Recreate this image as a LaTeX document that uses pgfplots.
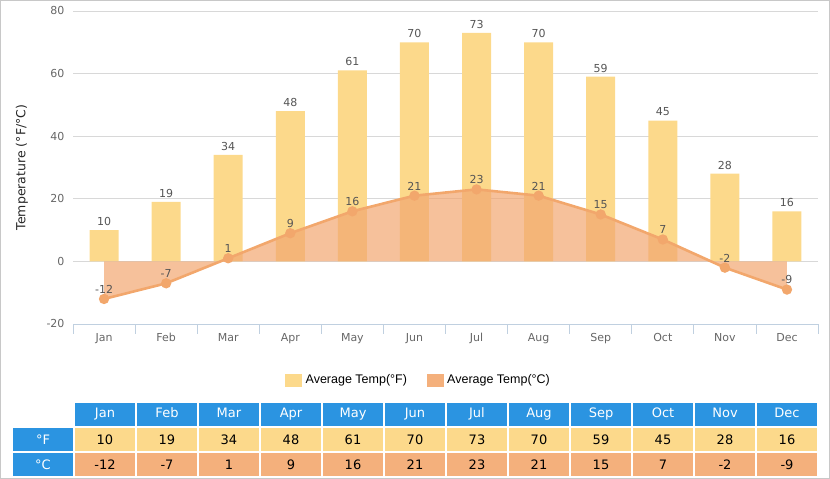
\documentclass[border=0pt]{standalone}
\usepackage{pgfplots}
\pgfplotsset{compat=1.18}
\usepackage{fontspec}
\setmainfont{DejaVu Sans}
\newfontfamily\arial{Liberation Sans}
\definecolor{barY}{HTML}{FCD98B}
\definecolor{lineO}{HTML}{F2A76C}
\definecolor{areaO}{HTML}{F2A670}
\definecolor{cellC}{HTML}{F4B07C}
\definecolor{hdr}{HTML}{2B94E1}
\definecolor{axisB}{HTML}{C0D0E0}
\definecolor{gridG}{HTML}{D8D8D8}
\definecolor{tickG}{HTML}{666666}
\definecolor{lblG}{HTML}{555555}
\definecolor{frameG}{HTML}{C8C8C8}
\begin{document}
\begin{tikzpicture}[x=1bp,y=1bp]
\path (0,0) rectangle (830,479);
\draw[frameG] (0.5,0.5) rectangle (829.5,478.5);
\begin{axis}[
  at={(73bp,155bp)}, anchor=south west,
  scale only axis, width=745bp, height=313bp,
  xmin=-0.5, xmax=11.5, ymin=-20, ymax=80,
  axis x line*=bottom, axis y line*=left,
  y axis line style={draw=none},
  x axis line style={draw=axisB,-},
  ytick={-20,0,20,40,60,80},
  ymajorgrids, grid style={gridG, line width=0.8bp},
  ytick style={draw=none},
  xtick={0,...,11},
  xticklabels={Jan,Feb,Mar,Apr,May,Jun,Jul,Aug,Sep,Oct,Nov,Dec},
  major x tick style={draw=none},
  minor xtick={-0.5,0.5,...,11.5},
  minor x tick style={draw=axisB, line width=0.8bp},
  minor tick length=10bp,
  xtick align=outside,
  /pgf/number format/assume math mode=true,
  tick label style={font=\fontsize{11bp}{13bp}\selectfont, text=tickG},
  xticklabel style={text height=8bp, text depth=2bp, yshift=-2bp},
  yticklabel style={xshift=-5bp},
  clip=false,
  legend style={at={(0.464,-0.179)}, anchor=center, draw=none, fill=none,
    font=\arial\fontsize{12.5bp}{14bp}\selectfont, legend columns=2,
    /tikz/every even column/.append style={column sep=18bp}},
  legend cell align=left,
]
\addplot[ybar, bar width=29bp, fill=barY, draw=none, forget plot,
  point meta=explicit symbolic,
  nodes near coords, every node near coord/.append style={font=\fontsize{11bp}{13bp}\selectfont, text=lblG, yshift=1bp}]
  coordinates {(0,10)[10] (1,19)[19] (2,34)[34] (3,48)[48] (4,61)[61] (5,70)[70] (6,73)[73] (7,70)[70] (8,59)[59] (9,45)[45] (10,28)[28] (11,16)[16]};
\addplot[fill=areaO, fill opacity=0.7, draw=none, forget plot]
  coordinates {(0,-12) (1,-7) (2,1) (3,9) (4,16) (5,21) (6,23) (7,21) (8,15) (9,7) (10,-2) (11,-9)} \closedcycle;
\addplot[color=lineO, line width=2.6bp, mark=*, mark size=3.8bp, mark options={fill=lineO, draw=none}, forget plot,
  point meta=explicit symbolic,
  nodes near coords, every node near coord/.append style={font=\fontsize{11bp}{13bp}\selectfont, text=lblG, yshift=1bp}]
  coordinates {(0,-12)[-12] (1,-7)[-7] (2,1)[1] (3,9)[9] (4,16)[16] (5,21)[21] (6,23)[23] (7,21)[21] (8,15)[15] (9,7)[7] (10,-2)[-2] (11,-9)[-9]};
\addlegendimage{legend image code/.code={\fill[barY] (0bp,-6bp) rectangle (16bp,6bp); \path[draw=none,fill=none] (0bp,0bp) -- (18bp,0bp);}}
\addlegendentry{Average Temp(°F)}
\addlegendimage{legend image code/.code={\fill[cellC] (0bp,-6bp) rectangle (16bp,6bp); \path[draw=none,fill=none] (0bp,0bp) -- (18bp,0bp);}}
\addlegendentry{Average Temp(°C)}
\end{axis}
\node[rotate=90, font=\fontsize{12.5bp}{14bp}\selectfont, text=black!85] at (22,311.5) {Temperature (°F/°C)};
% table
\fill[hdr] (13,28) rectangle (73,51);
\node[text=white, font=\fontsize{13bp}{15bp}\selectfont] at (43,39.5) {°F};
\fill[hdr] (13,3) rectangle (73,26);
\node[text=white, font=\fontsize{13bp}{15bp}\selectfont] at (43,14.5) {°C};
\foreach \m/\f/\c [count=\i from 0] in {Jan/10/-12,Feb/19/-7,Mar/34/1,Apr/48/9,May/61/16,Jun/70/21,Jul/73/23,Aug/70/21,Sep/59/15,Oct/45/7,Nov/28/-2,Dec/16/-9}{
  \pgfmathsetmacro{\xl}{75+62*\i}
  \fill[hdr] (\xl,53) rectangle ++(60,23);
  \node[text=white, font=\fontsize{13bp}{15bp}\selectfont, text height=9.5bp, text depth=2.5bp] at (\xl+30,64.5) {\m};
  \fill[barY] (\xl,28) rectangle ++(60,23);
  \node[text=black, font=\fontsize{13bp}{15bp}\selectfont] at (\xl+30,39.5) {\f};
  \fill[cellC] (\xl,3) rectangle ++(60,23);
  \node[text=black, font=\fontsize{13bp}{15bp}\selectfont] at (\xl+30,14.5) {\c};
}
\end{tikzpicture}
\end{document}
